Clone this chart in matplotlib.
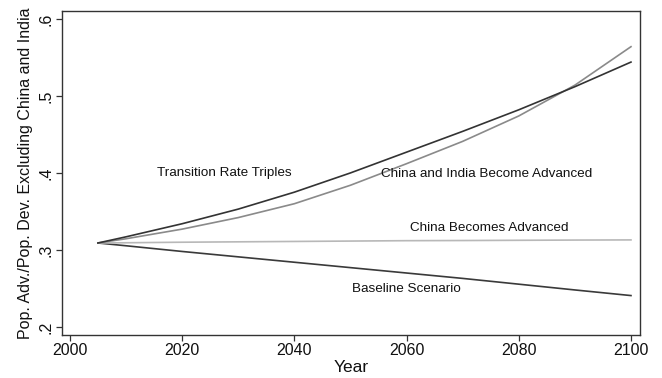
#!/usr/bin/python3

# Ratio of advanced to developing population under four scenarios

import matplotlib
matplotlib.use('Agg')
import matplotlib.pyplot as plt

plt.rcParams['font.family'] = ['Liberation Sans', 'DejaVu Sans']

years = [2005, 2010, 2020, 2030, 2040, 2050, 2060, 2070, 2080, 2090, 2100]

triples = [.309, .317, .334, .353, .375, .400, .427, .454, .482, .512, .544]
china_india = [.309, .3145, .327, .342, .360, .384, .412, .441, .474, .514, .564]
china = [.309, .3093, .310, .3105, .311, .3115, .312, .3122, .3125, .3128, .313]
baseline = [.309, .3054, .298, .291, .284, .277, .270, .263, .2555, .248, .2407]

x_ticks = [2000, 2020, 2040, 2060, 2080, 2100]
y_ticks = [.2, .3, .4, .5, .6]
y_tick_labels = ['.2', '.3', '.4', '.5', '.6']

labels = ['Transition Rate Triples', 'China and India Become Advanced',
          'China Becomes Advanced', 'Baseline Scenario']
label_pos = [(2027.6, .400), (2074.3, .399), (2074.7, .328), (2059.9, .249)]

fig = plt.figure(figsize=(6.62, 3.78), dpi=100)
ax = fig.add_axes([0.0937, 0.114, 0.873, 0.857])

ax.plot(years, baseline, color='#3a3a3a', lw=1.2)
ax.plot(years, china, color='#b8b8b8', lw=1.2)
ax.plot(years, china_india, color='#8a8a8a', lw=1.2)
ax.plot(years, triples, color='#333333', lw=1.2)

for text, (x, y) in zip(labels, label_pos):
    ax.text(x, y, text, ha='center', va='center', fontsize=9.7,
            color='#111111')

ax.set_xlim(1998.6, 2101.6)
ax.set_ylim(0.1896, 0.6104)
ax.set_xticks(x_ticks)
ax.set_yticks(y_ticks)
ax.set_yticklabels(y_tick_labels, rotation=90, va='center')
ax.tick_params(axis='both', direction='out', length=4, width=0.9,
               color='#333333', labelsize=11.5, labelcolor='#111111')
ax.tick_params(axis='x', pad=2)
ax.tick_params(axis='y', pad=2)

for spine in ax.spines.values():
    spine.set_color('#333333')
    spine.set_linewidth(1.0)

ax.set_xlabel('Year', fontsize=12.5, labelpad=1, color='#111111')
ax.set_ylabel('Pop. Adv./Pop. Dev. Excluding China and India',
              fontsize=11.5, labelpad=4, color='#111111')

fig.savefig('out.png', dpi=100)
